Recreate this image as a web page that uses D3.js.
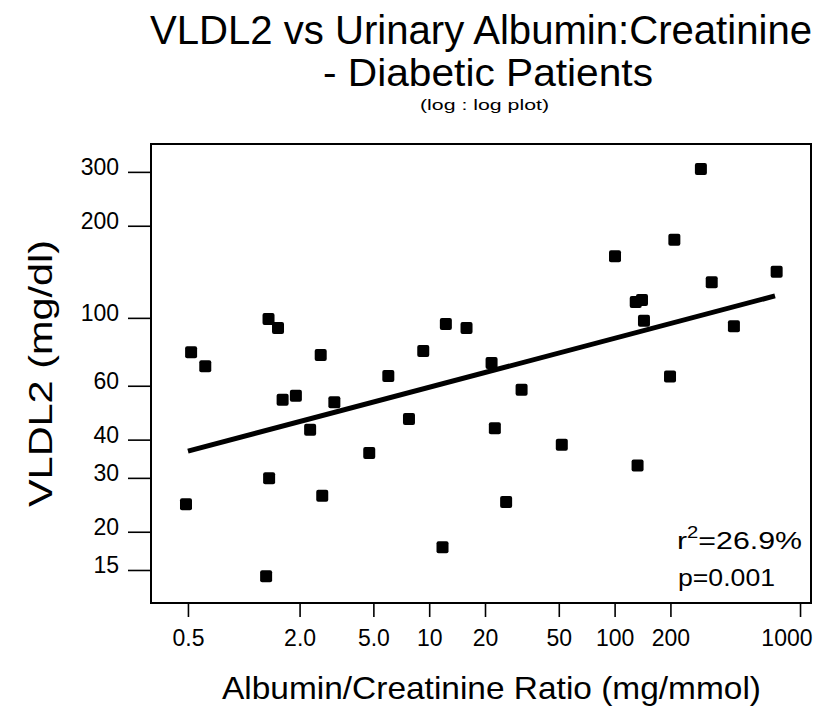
<!DOCTYPE html>
<html>
<head>
<meta charset="utf-8">
<script src="https://cdn.jsdelivr.net/npm/d3@7"></script>
<style>
  body { margin: 0; background: #fff; }
  text { font-family: "Liberation Sans", Arial, Helvetica, sans-serif; fill: #000; }
</style>
</head>
<body>
<script>
const svgWidth = 819; //Width of SVG.
const svgHeight = 713; //Height of SVG.

//Albumin/Creatinine ratio (mg/mmol) for each patient.
const acrValues = [0.52, 0.62, 1.36, 1.53, 2.60, 6.02, 9.29, 12.3, 15.9,
                   1.62, 1.91, 3.08, 2.28, 7.78, 4.75, 1.37, 2.65, 0.488,
                   11.8, 1.32, 22.6, 292, 210, 100.5, 748, 334, 130, 140.5,
                   144, 440, 21.7, 199, 31.5, 51.9, 133, 26.0];
//VLDL2 (mg/dl) for the same patients.
const vldlValues = [77.2, 69.5, 99.2, 92.7, 75.6, 64.6, 77.9, 95.5, 92.7,
                    54.0, 55.7, 53.0, 43.1, 46.7, 36.2, 29.9, 26.2, 24.6,
                    17.8, 14.3, 43.6, 306.6, 180, 159, 141.5, 130.7, 112.7, 114.4,
                    97.9, 93.9, 71.2, 64.3, 58.2, 38.5, 32.9, 25.0];

//Regression line end points (log : log fit).
const fitX = [0.5, 733];
const fitY = [36.7, 118];

//Tick values and labels.
const xTicks = [0.5, 2, 5, 10, 20, 50, 100, 200, 1000];
const xTickLabels = ["0.5", "2.0", "5.0", "10", "20", "50", "100", "200", "1000"];
const yTicks = [15, 20, 30, 40, 60, 100, 200, 300];

const titleLines = ["VLDL2 vs Urinary Albumin:Creatinine", "- Diabetic Patients"];
const subTitle = "(log : log plot)";
const xLabel = "Albumin/Creatinine Ratio (mg/mmol)";
const yLabel = "VLDL2  (mg/dl)";
const statR2 = "=26.9%";
const statP = "p=0.001";

const frame = {left: 151, right: 811, top: 144, bottom: 603}; //Plot box.

let xScale = d3.scaleLog() //Log scale for the x-axis.
               .domain([0.316, 1146])
               .range([frame.left, frame.right]);

let yScale = d3.scaleLog() //Log scale for the y-axis.
               .domain([11.7, 370])
               .range([frame.bottom, frame.top]);

let svg = d3.select("body")
            .append("svg")
            .attr("width", svgWidth)
            .attr("height", svgHeight);

//Title lines.
svg.append("text")
   .attr("x", 150).attr("y", 44)
   .attr("font-size", 40)
   .attr("textLength", 662).attr("lengthAdjust", "spacingAndGlyphs")
   .text(titleLines[0]);

svg.append("text")
   .attr("x", 323).attr("y", 86)
   .attr("font-size", 38)
   .attr("textLength", 330).attr("lengthAdjust", "spacingAndGlyphs")
   .text(titleLines[1]);

svg.append("text")
   .attr("x", 420).attr("y", 110)
   .attr("font-size", 15)
   .attr("textLength", 129).attr("lengthAdjust", "spacingAndGlyphs")
   .text(subTitle);

//Axes.
let xAxis = d3.axisBottom(xScale)
              .tickValues(xTicks)
              .tickFormat((d, i) => xTickLabels[i])
              .tickSize(14)
              .tickPadding(13);

let yAxis = d3.axisLeft(yScale)
              .tickValues(yTicks)
              .tickFormat(d3.format("d"))
              .tickSize(23)
              .tickPadding(9);

let gx = svg.append("g")
            .attr("transform", "translate(0," + frame.bottom + ")")
            .call(xAxis);

let gy = svg.append("g")
            .attr("transform", "translate(" + frame.left + ",0)")
            .call(yAxis);

[gx, gy].forEach(g => {
  g.select(".domain").remove();
  g.selectAll(".tick line").attr("stroke", "#000").attr("stroke-width", 1.6);
  g.selectAll(".tick text")
   .attr("font-size", 23)
   .attr("font-family", "'Liberation Sans', Arial, sans-serif")
   .attr("fill", "#000");
});
gy.selectAll(".tick text").attr("dy", "0.12em");
//Last x label sits left of its tick so it stays inside the page.
gx.selectAll(".tick text")
  .filter(d => d === 1000)
  .attr("text-anchor", "end")
  .attr("x", 12);

//Plot frame.
svg.append("rect")
   .attr("x", frame.left)
   .attr("y", frame.top)
   .attr("width", frame.right - frame.left)
   .attr("height", frame.bottom - frame.top)
   .attr("fill", "none")
   .attr("stroke", "#000")
   .attr("stroke-width", 2);

//Axis titles.
svg.append("text")
   .attr("x", 222).attr("y", 699)
   .attr("font-size", 32)
   .attr("textLength", 539).attr("lengthAdjust", "spacingAndGlyphs")
   .text(xLabel);

svg.append("text")
   .attr("transform", "translate(52,507) rotate(-90)")
   .attr("font-size", 33)
   .attr("textLength", 267).attr("lengthAdjust", "spacingAndGlyphs")
   .text(yLabel);

//Regression line.
svg.append("line")
   .attr("x1", xScale(fitX[0])).attr("y1", yScale(fitY[0]))
   .attr("x2", xScale(fitX[1])).attr("y2", yScale(fitY[1]))
   .attr("stroke", "#000")
   .attr("stroke-width", 5)
   .attr("stroke-linecap", "butt");

//Data points as filled squares.
const pts = acrValues.map((v, i) => ({x: v, y: vldlValues[i]}));
svg.selectAll("rect.pt")
   .data(pts)
   .enter()
   .append("rect")
   .attr("class", "pt")
   .attr("x", d => xScale(d.x) - 6)
   .attr("y", d => yScale(d.y) - 6)
   .attr("width", 12)
   .attr("height", 12)
   .attr("rx", 2)
   .attr("fill", "#000");

//Statistics text.
let r2 = svg.append("text")
            .attr("x", 677).attr("y", 549)
            .attr("font-size", 24)
            .attr("textLength", 125).attr("lengthAdjust", "spacingAndGlyphs");
r2.append("tspan").text("r");
r2.append("tspan").attr("font-size", 16).attr("dy", -11).text("2");
r2.append("tspan").attr("dy", 11).text(statR2);

svg.append("text")
   .attr("x", 678).attr("y", 586)
   .attr("font-size", 24)
   .attr("textLength", 97).attr("lengthAdjust", "spacingAndGlyphs")
   .text(statP);
</script>
</body>
</html>
